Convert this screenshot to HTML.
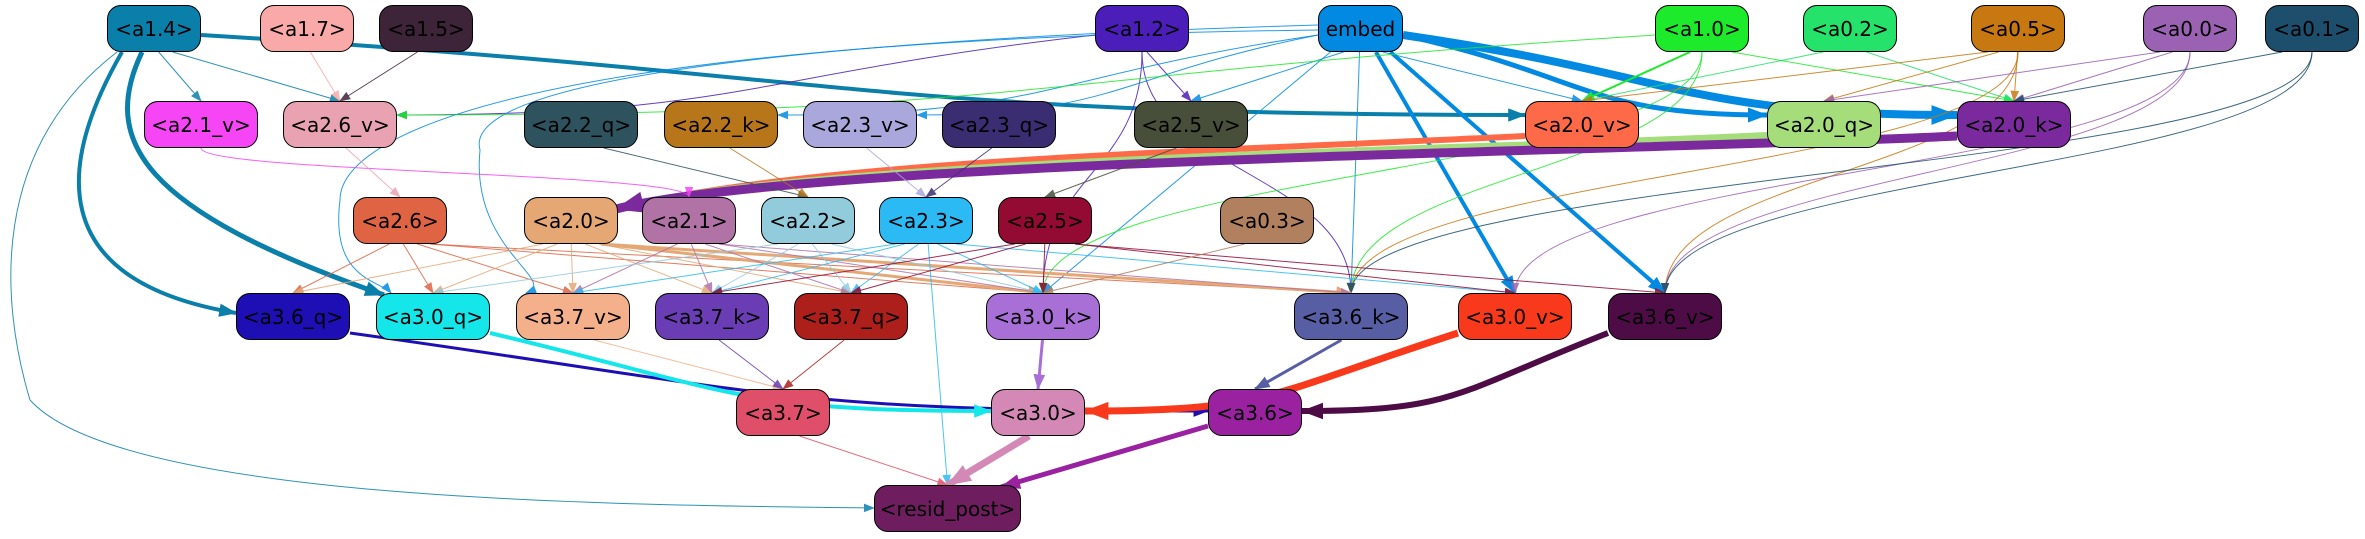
<!DOCTYPE html>
<html><head><meta charset="utf-8">
<style>
html,body{margin:0;padding:0;background:#fff;}
#c{position:relative;width:2365px;height:539px;overflow:hidden;}
svg{position:absolute;left:0;top:0;}
.n{position:absolute;height:47px;border:1.5px solid #000;border-radius:14px;box-sizing:border-box;display:flex;align-items:center;justify-content:center;font-family:"DejaVu Sans","Liberation Sans",sans-serif;font-size:20px;color:#000;white-space:nowrap;}
</style></head><body>
<div id="c">
<svg id="s" width="2365" height="539" viewBox="0 0 2365 539"></svg>
<div id="nodes"></div>
</div>
<script>
const R=[5,101,197,293,389,485];
const N={
'a1.4':[107,0,'#0a7faa'],'a1.7':[260,0,'#f9aaa8'],'a1.5':[379,0,'#3d2438'],'a1.2':[1095,0,'#4b1db9'],'embed':[1318,0,'#028ae2'],
'a1.0':[1655,0,'#1dea2a'],'a0.2':[1803,0,'#25e26a'],'a0.5':[1971,0,'#c77810'],'a0.0':[2143,0,'#9b62b3'],'a0.1':[2265,0,'#1d4e6c'],
'a2.1_v':[144,1,'#f545f5'],'a2.6_v':[283,1,'#e9a2b1'],'a2.2_q':[524,1,'#2e525e'],'a2.2_k':[664,1,'#b8761a'],'a2.3_v':[803,1,'#aaa7dc'],
'a2.3_q':[942,1,'#3b2d72'],'a2.5_v':[1134,1,'#474f3a'],'a2.0_v':[1525,1,'#fe6a48'],'a2.0_q':[1767,1,'#a4dd7a'],'a2.0_k':[1957,1,'#7b2a9e'],
'a2.6':[353,2,'#de6443'],'a2.0':[524,2,'#e5a875'],'a2.1':[642,2,'#b172a6'],'a2.2':[761,2,'#91cbdc'],'a2.3':[879,2,'#2bbaf3'],
'a2.5':[998,2,'#930a32'],'a0.3':[1220,2,'#b1815f'],
'a3.6_q':[236,3,'#1e0fb4'],'a3.0_q':[376,3,'#14e6ea'],'a3.7_v':[516,3,'#f3b08a'],'a3.7_k':[655,3,'#6a3db5'],'a3.7_q':[794,3,'#ac1f1b'],
'a3.0_k':[986,3,'#a86fd6'],'a3.6_k':[1294,3,'#585ea3'],'a3.0_v':[1458,3,'#f8391b'],'a3.6_v':[1608,3,'#4d0c45'],
'a3.7':[736,4,'#e04f6a'],'a3.0':[991,4,'#d488b6'],'a3.6':[1208,4,'#9a21a0'],
'resid_post':[874,5,'#6e1d5e']};
function W(k){return k=='resid_post'?147:(k=='embed'?85:(k.indexOf('_')>0?114:94));}
let h='';
for(const k in N){const [x,r,c]=N[k];h+=`<div class="n" style="left:${x}px;top:${R[r]}px;width:${W(k)}px;background:${c}">${k=='embed'?'embed':'&lt;'+k+'&gt;'}</div>`;}
document.getElementById('nodes').innerHTML=h;
const E=[
['a1.4','a2.1_v',1],['a1.4','a2.6_v',1],['a1.4','a2.0_v',4,'h'],['a1.4','a3.6_q',4,'l1'],['a1.4','a3.0_q',5,'l2'],['a1.4','resid_post',1,'l3'],
['a1.7','a2.6_v',1],['a1.5','a2.6_v',1],
['a1.2','a2.6_v',1,'h'],['a1.2','a2.5_v',1],['a1.2','a3.0_k',1,'c'],['a1.2','a3.6_k',1,'c'],
['embed','a2.0_k',8,'h'],['embed','a2.0_q',5,'h'],['embed','a3.0_v',4],['embed','a3.6_v',4],['embed','a2.0_v',1],['embed','a2.5_v',1],
['embed','a2.3_v',1,'h'],['embed','a2.2_k',1,'h'],['embed','a3.0_k',1],['embed','a3.6_k',1],['embed','a3.7_v',1,'l4'],['embed','a3.0_q',1,'l5'],
['a1.0','a2.0_v',2],['a1.0','a2.0_k',1],['a1.0','a2.6_v',1,'h'],['a1.0','a3.0_k',1,'c'],['a1.0','a3.6_k',1,'c'],
['a0.2','a2.0_v',1],['a0.2','a2.0_k',1],
['a0.5','a2.0_v',1],['a0.5','a2.0_q',1],['a0.5','a2.0_k',1],['a0.5','a3.6_k',1,'c'],['a0.5','a3.6_v',1,'c'],
['a0.0','a2.0_q',1],['a0.0','a2.0_k',1],['a0.0','a3.0_v',1,'c'],['a0.0','a3.6_v',1,'c'],
['a0.1','a2.0_k',1],['a0.1','a3.6_k',1,'c'],['a0.1','a3.6_v',1,'c'],
['a2.0_v','a2.0',6,'h2'],['a2.0_q','a2.0',8,'h2'],['a2.0_k','a2.0',9,'h2'],
['a2.2_q','a2.2',1],['a2.2_k','a2.2',1],['a2.3_v','a2.3',1],['a2.3_q','a2.3',1],['a2.5_v','a2.5',1],['a2.1_v','a2.1',1,'c'],['a2.6_v','a2.6',1],
['a2.6','a3.6_q',1],['a2.6','a3.0_q',1],['a2.6','a3.7_v',1],['a2.6','a3.0_k',1],['a2.6','a3.6_k',1],
['a2.0','a3.6_q',1],['a2.0','a3.0_q',1],['a2.0','a3.7_v',1],['a2.0','a3.7_k',1],['a2.0','a3.0_k',3],['a2.0','a3.6_k',3],['a2.0','a3.7_q',1],
['a2.1','a3.7_v',1],['a2.1','a3.7_k',1],['a2.1','a3.0_k',1],['a2.1','a3.7_q',1],['a2.1','a3.6_k',1],
['a2.2','a3.7_k',1],['a2.2','a3.7_q',1],['a2.2','a3.0_k',1],['a2.2','a3.0_q',1],
['a2.3','a3.7_q',1],['a2.3','a3.0_k',1],['a2.3','a3.7_v',1],['a2.3','resid_post',1],['a2.3','a3.0_v',1],['a2.3','a3.7_k',1],
['a2.5','a3.0_k',1],['a2.5','a3.7_q',1],['a2.5','a3.7_k',1],['a2.5','a3.0_v',1],['a2.5','a3.6_v',1],
['a0.3','a3.0_k',1],
['a3.6_q','a3.6',3,'h3'],['a3.0_q','a3.0',4,'h3'],['a3.7_v','a3.7',1],['a3.7_k','a3.7',1],['a3.7_q','a3.7',1],
['a3.0_k','a3.0',3],['a3.6_k','a3.6',3],['a3.0_v','a3.0',7,'h3'],['a3.6_v','a3.6',6,'h3'],
['a3.7','resid_post',1],['a3.0','resid_post',7],['a3.6','resid_post',5,'s2']];
let s='<defs>';let p='';
E.forEach((e,i)=>{
 const [a,b,w,m]=e;const A=N[a],B=N[b];const col=A[2];
 const ax=A[0]+W(a)/2, ay=R[A[1]]+47, bx=B[0]+W(b)/2, by=R[B[1]];
 const sw=w;
 const L=9+2.2*sw, H=7+1.6*sw;
 s+=`<marker id="m${i}" markerWidth="${L}" markerHeight="${H}" refX="${L-1}" refY="${H/2}" orient="auto" markerUnits="userSpaceOnUse"><path d="M0,0L${L},${H/2}L0,${H}z" fill="${col}"/></marker>`;
 let d;
 if(m=='h'){
   const sx=bx<ax?A[0]:A[0]+W(a), sy=R[A[1]]+30;
   const ex=bx<ax?B[0]+W(b):B[0], ey=by+14;
   d=`M${sx},${sy} C${(sx+ex)/2},${sy+40} ${(sx+ex)/2},${ey} ${ex},${ey}`;
 } else if(m=='h2'){
   const sx=A[0], sy=R[A[1]]+35, ex=B[0]+W(b)-2, ey=by+12;
   d=`M${sx},${sy} C${sx-300},${sy+15} ${ex+200},${ey-50} ${ex},${ey}`;
 } else if(m=='h3'){
   const left=bx>ax; const sx=left?A[0]+W(a):A[0], sy=R[A[1]]+40;
   const ex=left?B[0]:B[0]+W(b), ey=by+22;
   d=`M${sx},${sy} C${(sx+ex)/2},${sy+60} ${(sx+ex)/2},${ey} ${ex},${ey}`;
 } else if(m=='s2'){d=`M${A[0]},${ay-10} L${B[0]+W(b)-20},${by+2}`;}
 else if(m=='c'){d=`M${ax},${ay} C${ax},${(ay+by)/2} ${bx},${(ay+by)/2} ${bx},${by}`;}
 else if(m=='l1'){d=`M${A[0]+15},${ay} C60,160 40,280 ${B[0]},${by+20}`;}
 else if(m=='l2'){d=`M${A[0]+35},${ay} C100,140 140,210 ${B[0]+8},${by+2}`;}
 else if(m=='l3'){d=`M${A[0]+10},${ay} C-10,150 0,300 30,400 C120,500 600,505 ${B[0]},${by+23}`;}
 else if(m=='l4'){d=`M${A[0]},${R[0]+20} C800,40 460,80 480,150 C470,250 560,280 ${B[0]+10},${by}`;}
 else if(m=='l5'){d=`M${A[0]},${R[0]+25} C500,40 340,140 340,200 C330,280 380,280 ${B[0]+15},${by}`;}
 else {const sx=ax+Math.max(-30,Math.min(30,(bx-ax)*0.1));d=`M${sx},${ay} L${bx},${by}`;}
 p+=`<path d="${d}" fill="none" stroke="${col}" stroke-width="${sw}" marker-end="url(#m${i})" opacity="${sw<2?0.85:1}"/>`;
});
s+='</defs>'+p;
document.getElementById('s').innerHTML=s;
</script>
</body></html>
